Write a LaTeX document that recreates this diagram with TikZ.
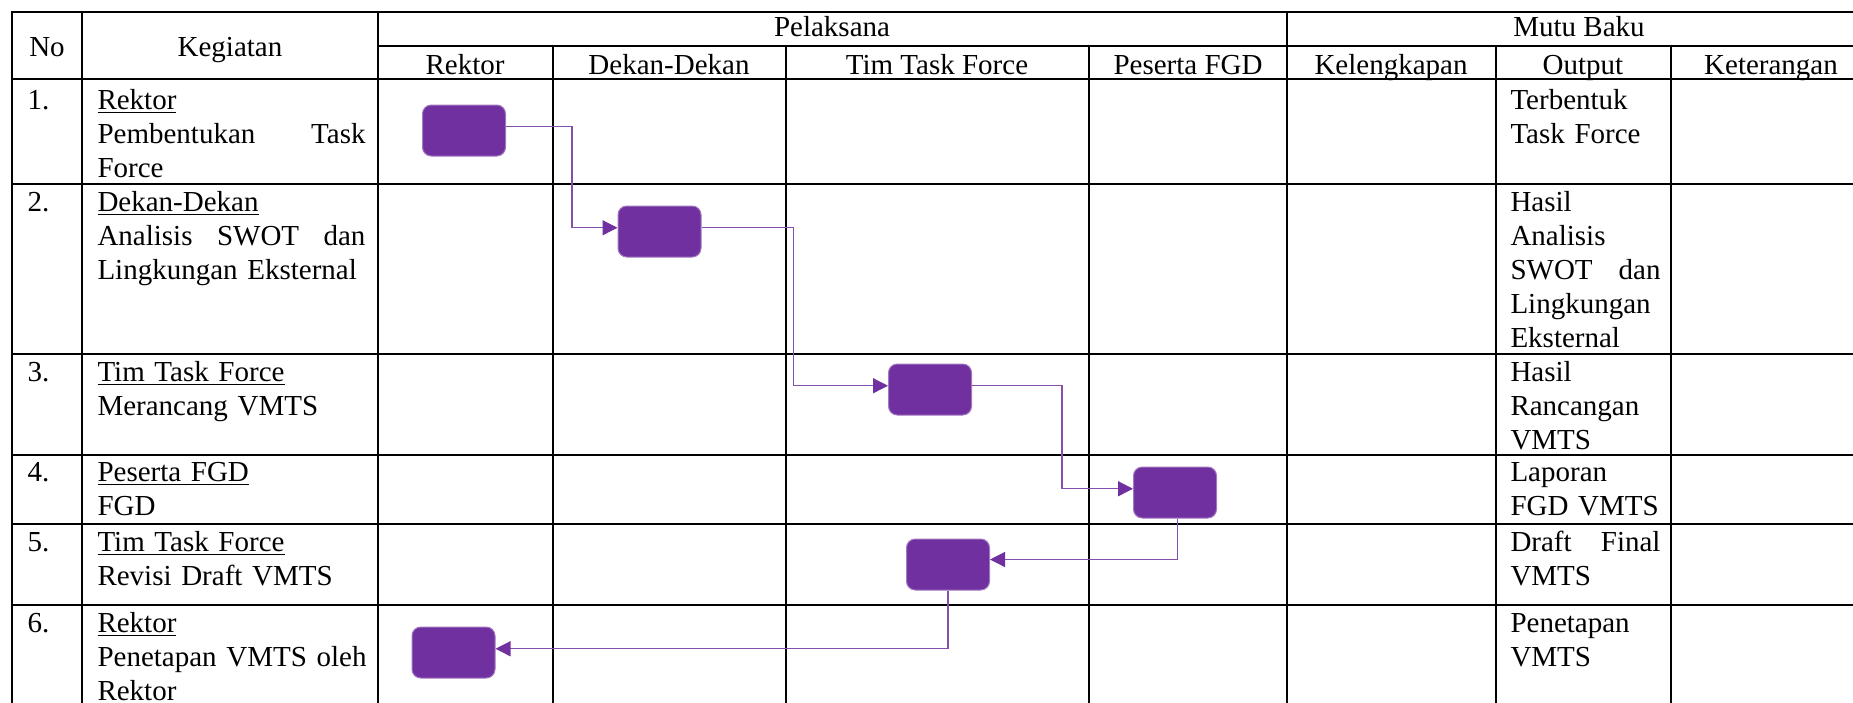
\documentclass[tikz,border=0pt]{standalone}
\usepackage{fontspec}
\setmainfont{Liberation Serif}
\usetikzlibrary{arrows.meta}
\definecolor{ungu}{HTML}{7030A0}

\begin{document}
\begin{tikzpicture}[x=0.4pt,y=-0.4pt,
	every node/.style={inner sep=0pt,font=\fontsize{11.6}{13.6}\selectfont},
	tabline/.style={line width=0.9pt,line cap=rect},
	box/.style={rectangle,rounded corners=3.5pt,fill=ungu,draw=ungu!65!white,line width=0.4pt,minimum width=33.2pt,minimum height=20.4pt},
	flow/.style={draw=ungu!85!white,line width=0.5pt,-{Triangle[length=6pt,width=6pt,color=ungu]}},
	head/.style={anchor=base},
	cell/.style={anchor=base west,align=left,text width=107.2pt},
	outcell/.style={anchor=base west,align=left,text width=60pt}]
	\clip (0,0) rectangle (1853,702); % picture frame

	\foreach \y in {12,79,184,354,455,524,605} \draw[tabline] (12,\y) -- (1900,\y); % row lines
	\draw[tabline] (378,46) -- (1900,46); % under Pelaksana / Mutu Baku
	\foreach \x in {12,82,378,1287} \draw[tabline] (\x,12) -- (\x,720); % full columns
	\foreach \x in {553,786,1089,1496,1671} \draw[tabline] (\x,46) -- (\x,720); % sub columns

	\node[head] (hno) at (47,56) {No};
	\node[head] (hkeg) at (230,56) {Kegiatan};
	\node[head] (hpel) at (832,36) {Pelaksana};
	\node[head] (hmutu) at (1579,36) {Mutu Baku};
	\node[head] (hrek) at (465,74) {Rektor};
	\node[head] (hdek) at (669,74) {Dekan-Dekan};
	\node[head] (htim) at (937,74) {Tim Task Force};
	\node[head] (hfgd) at (1188,74) {Peserta FGD};
	\node[head] (hlengkap) at (1391,74) {Kelengkapan};
	\node[head] (houtput) at (1583,74) {Output};
	\node[head] (hket) at (1771,74) {Keterangan};

	\node[anchor=base west] (no1) at (27,109) {1.};
	\node[anchor=base west] (no2) at (27,211) {2.};
	\node[anchor=base west] (no3) at (27,381) {3.};
	\node[anchor=base west] (no4) at (27,481) {4.};
	\node[anchor=base west] (no5) at (27,551) {5.};
	\node[anchor=base west] (no6) at (27,632) {6.};

	\node[cell] (keg1) at (97,109) {\underline{Rektor}\\Pembentukan\hfill Task\\Force};
	\node[cell] (keg2) at (97,211) {\underline{Dekan-Dekan}\\Analisis\hfill SWOT\hfill dan\\Lingkungan Eksternal};
	\node[cell] (keg3) at (97,381) {\underline{Tim Task Force}\\Merancang VMTS};
	\node[cell] (keg4) at (97,481) {\underline{Peserta FGD}\\FGD};
	\node[cell] (keg5) at (97,551) {\underline{Tim Task Force}\\Revisi Draft VMTS};
	\node[cell] (keg6) at (97,632) {\underline{Rektor}\\\mbox{Penetapan VMTS oleh}\\Rektor};

	\node[outcell] (out1) at (1510,109) {Terbentuk\\Task Force};
	\node[outcell] (out2) at (1510,211) {Hasil\\Analisis\\SWOT\hfill dan\\Lingkungan\\Eksternal};
	\node[outcell] (out3) at (1510,381) {Hasil\\Rancangan\\VMTS};
	\node[outcell] (out4) at (1510,481) {Laporan\\FGD VMTS};
	\node[outcell] (out5) at (1510,551) {Draft\hfill Final\\VMTS};
	\node[outcell] (out6) at (1510,632) {Penetapan\\VMTS};

	\node[box] (b1) at (464,130.5) {}; % rektor
	\node[box] (b2) at (659.5,231.5) {}; % dekan
	\node[box] (b3) at (930,389.5) {}; % tim task force
	\node[box] (b4) at (1175,492.5) {}; % peserta FGD
	\node[box] (b5) at (948,564.5) {}; % revisi
	\node[box] (b6) at (453.5,652.5) {}; % penetapan

	\draw[flow] ([yshift=1.5pt]b1.east) -- ++(66,0) |- ([yshift=1.5pt]b2.west);
	\draw[flow] ([yshift=1.5pt]b2.east) -- ++(92,0) |- ([yshift=1.5pt]b3.west);
	\draw[flow] ([yshift=1.5pt]b3.east) -- ++(90,0) |- ([yshift=1.5pt]b4.west);
	\draw[flow] ([xshift=1pt]b4.south) |- ([yshift=2pt]b5.east);
	\draw[flow] (b5.south) |- ([yshift=1.5pt]b6.east);
\end{tikzpicture}
\end{document}
